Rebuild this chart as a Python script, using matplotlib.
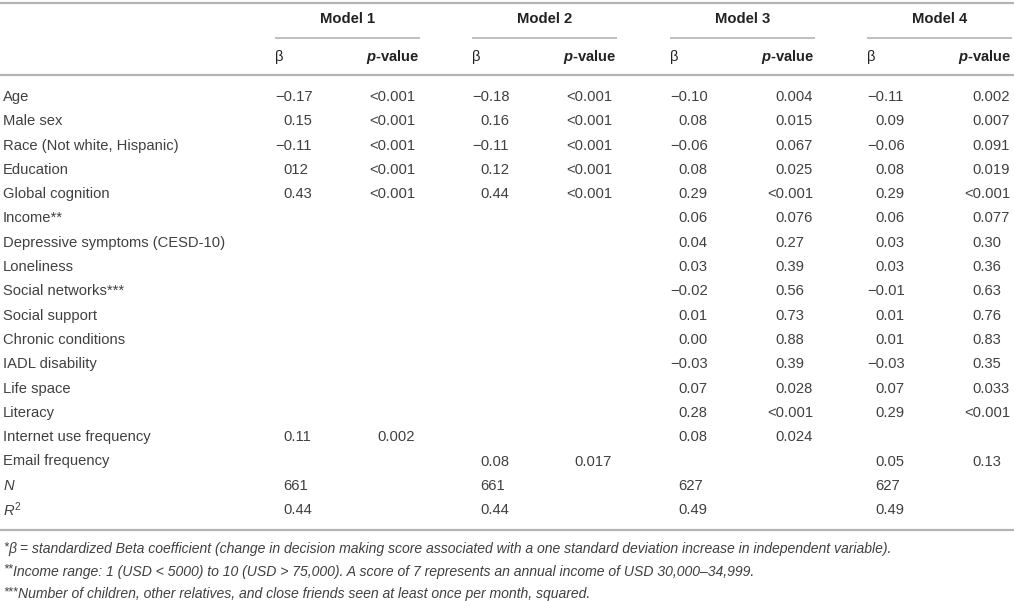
import matplotlib
matplotlib.use("Agg")
import matplotlib.pyplot as plt

plt.rcParams['font.family'] = ['Liberation Sans', 'DejaVu Sans']
plt.rcParams['mathtext.fontset'] = 'custom'
plt.rcParams['mathtext.rm'] = 'Liberation Sans'
plt.rcParams['mathtext.it'] = 'Liberation Sans:italic'
plt.rcParams['mathtext.bf'] = 'Liberation Sans:bold'
plt.rcParams['mathtext.bfit'] = 'Liberation Sans:italic:bold'

# ---- data ----
models = ["Model 1", "Model 2", "Model 3", "Model 4"]
row_labels = ["Age", "Male sex", "Race (Not white, Hispanic)", "Education",
              "Global cognition", "Income**", "Depressive symptoms (CESD-10)",
              "Loneliness", "Social networks***", "Social support",
              "Chronic conditions", "IADL disability", "Life space", "Literacy",
              "Internet use frequency", "Email frequency", "$N$", "$R^{2}$"]
beta_m1 = ["\u22120.17", "0.15", "\u22120.11", "012", "0.43", "", "", "", "", "", "", "", "", "", "0.11", "", "661", "0.44"]
p_m1 = ["<0.001", "<0.001", "<0.001", "<0.001", "<0.001", "", "", "", "", "", "", "", "", "", "0.002", "", "", ""]
beta_m2 = ["\u22120.18", "0.16", "\u22120.11", "0.12", "0.44", "", "", "", "", "", "", "", "", "", "", "0.08", "661", "0.44"]
p_m2 = ["<0.001", "<0.001", "<0.001", "<0.001", "<0.001", "", "", "", "", "", "", "", "", "", "", "0.017", "", ""]
beta_m3 = ["\u22120.10", "0.08", "\u22120.06", "0.08", "0.29", "0.06", "0.04", "0.03", "\u22120.02", "0.01", "0.00", "\u22120.03", "0.07", "0.28", "0.08", "", "627", "0.49"]
p_m3 = ["0.004", "0.015", "0.067", "0.025", "<0.001", "0.076", "0.27", "0.39", "0.56", "0.73", "0.88", "0.39", "0.028", "<0.001", "0.024", "", "", ""]
beta_m4 = ["\u22120.11", "0.09", "\u22120.06", "0.08", "0.29", "0.06", "0.03", "0.03", "\u22120.01", "0.01", "0.01", "\u22120.03", "0.07", "0.29", "", "0.05", "627", "0.49"]
p_m4 = ["0.002", "0.007", "0.091", "0.019", "<0.001", "0.077", "0.30", "0.36", "0.63", "0.76", "0.83", "0.35", "0.033", "<0.001", "", "0.13", "", ""]
note_marks = ["*", "**", "***"]
note_texts = [
    "\u03b2 = standardized Beta coefficient (change in decision making score associated with a one standard deviation increase in independent variable).",
    "Income range: 1 (USD < 5000) to 10 (USD > 75,000). A score of 7 represents an annual income of USD 30,000\u201334,999.",
    "Number of children, other relatives, and close friends seen at least once per month, squared.",
]

betas = [beta_m1, beta_m2, beta_m3, beta_m4]
pvals = [p_m1, p_m2, p_m3, p_m4]

# ---- layout (pixels) ----
W, H = 1014, 601
col_start = [275, 472, 670, 867]
col_end = [420, 617, 815, 1012]
row_y0, row_dy = 97, 24.3
txt = "#404040"
rule = "#b4b4b4"
fs = 10.6

fig = plt.figure(figsize=(W / 100, H / 100), dpi=100)
ax = fig.add_axes([0, 0, 1, 1])
ax.set_xlim(0, W)
ax.set_ylim(H, 0)
ax.axis("off")

# rules
ax.hlines([3, 75, 530], 0, W, colors=rule, lw=1.6)
for i, m in enumerate(models):
    ax.hlines(38, col_start[i], col_end[i], colors=rule, lw=1.2)
    ax.text((col_start[i] + col_end[i]) / 2, 19, m, ha="center", va="center",
            fontsize=fs, fontweight="bold", color="#222222")
    ax.text(col_start[i], 57, "\u03b2", ha="left", va="center", fontsize=fs, color="#222222")
    ax.text(col_end[i], 57, r"$\mathbfit{p}$-value", ha="right", va="center",
            fontsize=fs, fontweight="bold", color="#222222")

for r, lab in enumerate(row_labels):
    y = row_y0 + r * row_dy
    ax.text(3, y, lab, ha="left", va="center", fontsize=fs, color=txt)
    for i in range(4):
        b = betas[i][r]
        if b:
            x = col_start[i] if b.startswith("\u2212") else col_start[i] + 8
            ax.text(x, y, b, ha="left", va="center", fontsize=fs, color=txt)
        p = pvals[i][r]
        if p:
            if i < 2:
                ax.text(col_end[i] - 5, y, p, ha="right", va="center", fontsize=fs, color=txt)
            elif r < 5 or p.startswith("<"):
                ax.text(col_end[i] - 2, y, p, ha="right", va="center", fontsize=fs, color=txt)
            else:
                ax.text(col_end[i] - 40, y, p, ha="left", va="center", fontsize=fs, color=txt)

# footnotes: raised marks, then italic text right after them
for k in range(3):
    y = 549 + k * 22.5
    star = ax.text(3, y - 2, note_marks[k], ha="left", va="center", fontsize=9,
                   style="italic", color=txt)
    ax.annotate(note_texts[k], xy=(1, 0.5), xycoords=star, xytext=(0.5, -1.5),
                textcoords="offset points", ha="left", va="center",
                fontsize=10.1, style="italic", color=txt)

fig.savefig("out.png", dpi=100)
